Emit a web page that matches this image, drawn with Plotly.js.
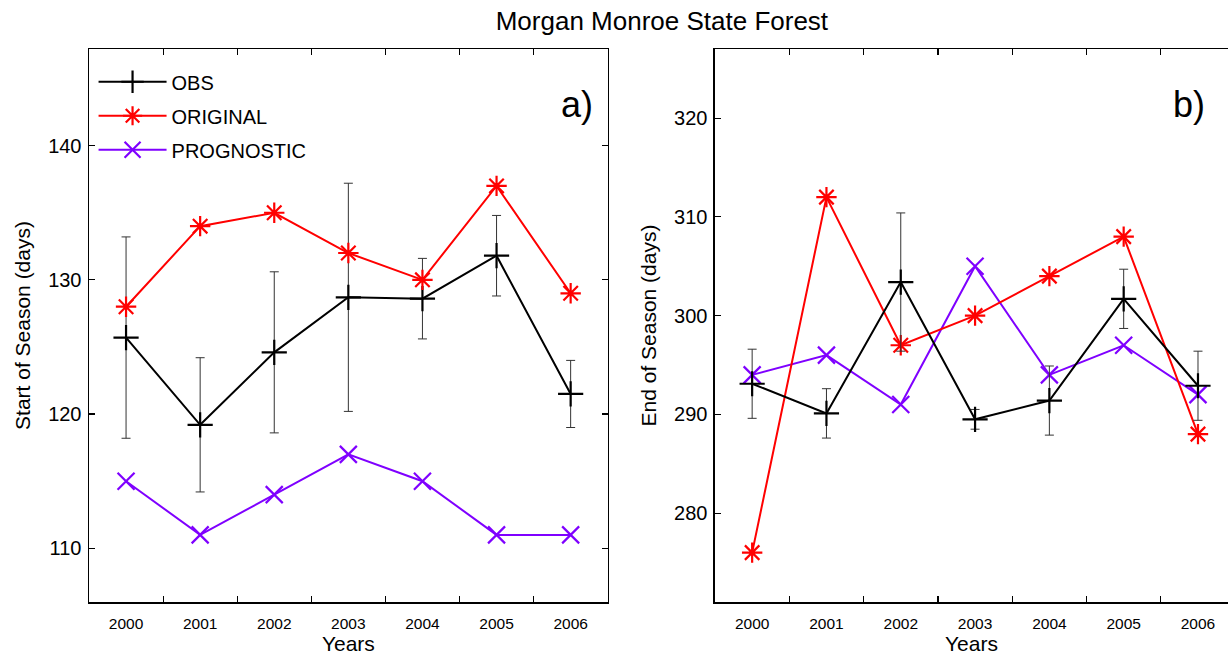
<!DOCTYPE html>
<html>
<head>
<meta charset="utf-8">
<script src="https://cdn.plot.ly/plotly-3.0.1.min.js"></script>
<style>html,body{margin:0;padding:0;background:#fff;}#chart{width:1228px;height:656px;}</style>
</head>
<body>
<div id="chart"></div>
<script>
const years = ['2000','2001','2002','2003','2004','2005','2006'];
// a) Start of Season (days)
const sosObs = [125.7, 119.2, 124.6, 128.7, 128.6, 131.8, 121.5];
const sosObsErr = [7.5, 5.0, 6.0, 8.5, 3.0, 3.0, 2.5];
const sosOriginal = [128, 134, 135, 132, 130, 137, 129];
const sosPrognostic = [115, 111, 114, 117, 115, 111, 111];
// b) End of Season (days)
const eosObs = [293.1, 290.1, 303.4, 289.5, 291.4, 301.7, 292.9];
const eosObsErr = [3.5, 2.5, 7.0, 1.0, 3.5, 3.0, 3.5];
const eosOriginal = [276, 312, 297, 300, 304, 308, 288];
const eosPrognostic = [294, 296, 291, 305, 294, 297, 292];

const FONT = 'Liberation Sans, Arial, Helvetica, sans-serif';
const cBlack = '#000000', cRed = '#ff0000', cPurple = '#7f00ff';

function obsTrace(y, err, xa, ya, show) {
  return {x: years, y: y, xaxis: xa, yaxis: ya, type: 'scatter', mode: 'lines+markers',
    name: 'OBS', legendgroup: 'obs', showlegend: show,
    line: {color: cBlack, width: 2},
    marker: {symbol: 'cross-thin', size: 18, line: {color: cBlack, width: 2.2}},
    error_y: {type: 'data', array: err, visible: true, color: '#333333', thickness: 1, width: 4.5}};
}
function origTrace(y, xa, ya, show) {
  return {x: years, y: y, xaxis: xa, yaxis: ya, type: 'scatter', mode: 'lines+markers',
    name: 'ORIGINAL', legendgroup: 'orig', showlegend: show,
    line: {color: cRed, width: 2},
    marker: {symbol: 'asterisk-open', size: 17, line: {color: cRed, width: 2.2}}};
}
function progTrace(y, xa, ya, show) {
  return {x: years, y: y, xaxis: xa, yaxis: ya, type: 'scatter', mode: 'lines+markers',
    name: 'PROGNOSTIC', legendgroup: 'prog', showlegend: show,
    line: {color: cPurple, width: 2},
    marker: {symbol: 'x-thin-open', size: 17, line: {color: cPurple, width: 2.2}}};
}

const data = [
  obsTrace(sosObs, sosObsErr, 'x', 'y', true),
  origTrace(sosOriginal, 'x', 'y', true),
  progTrace(sosPrognostic, 'x', 'y', true),
  progTrace(eosPrognostic, 'x2', 'y2', false),
  origTrace(eosOriginal, 'x2', 'y2', false),
  obsTrace(eosObs, eosObsErr, 'x2', 'y2', false)
];

const xBase = {type: 'category', tickson: 'boundaries', ticks: 'inside', ticklen: 6, tickwidth: 1.2,
  tickcolor: '#000', showline: true, linecolor: '#000', linewidth: 1.5, showgrid: false, zeroline: false,
  ticklabelstandoff: 7,
  tickfont: {family: FONT, size: 15.5, color: '#000'}, fixedrange: true};
const yBase = {ticks: 'inside', ticklen: 6, tickwidth: 1.2, tickcolor: '#000', showline: true,
  linecolor: '#000', linewidth: 1.5, showgrid: false, zeroline: false, dtick: 10,
  ticklabelstandoff: 2,
  tickfont: {family: FONT, size: 20, color: '#000'}, fixedrange: true};

const layout = {
  width: 1228, height: 656,
  margin: {l: 89, r: 0, t: 49, b: 54},
  paper_bgcolor: '#fff', plot_bgcolor: '#fff',
  font: {family: FONT, color: '#000'},
  title: {text: 'Morgan Monroe State Forest', x: 0.539, xanchor: 'center', y: 0.968, yanchor: 'middle',
    xref: 'container', yref: 'container', font: {family: FONT, size: 26, color: '#000'}},
  xaxis: Object.assign({}, xBase, {domain: [0, 0.4554], range: [-0.5, 6.5], mirror: 'ticks', anchor: 'y',
    title: {text: 'Years', standoff: 4, font: {family: FONT, size: 21, color: '#000'}}}),
  yaxis: Object.assign({}, yBase, {domain: [0, 1], range: [106, 147.2], mirror: 'ticks', anchor: 'x',
    tickvals: [110, 120, 130, 140],
    title: {text: 'Start of Season (days)', standoff: 12, font: {family: FONT, size: 21, color: '#000'}}}),
  xaxis2: Object.assign({}, xBase, {domain: [0.5496, 1], range: [-0.5, 6.404], mirror: 'ticks', anchor: 'y2',
    title: {text: 'Years', standoff: 4, font: {family: FONT, size: 21, color: '#000'}}}),
  yaxis2: Object.assign({}, yBase, {domain: [0, 1], range: [271, 327], mirror: false, anchor: 'x2',
    tickvals: [280, 290, 300, 310, 320],
    title: {text: 'End of Season (days)', standoff: 12, font: {family: FONT, size: 21, color: '#000'}}}),
  showlegend: true,
  legend: {x: 0.004, y: 0.976, xanchor: 'left', yanchor: 'top', xref: 'paper', yref: 'paper',
    bgcolor: 'rgba(0,0,0,0)', borderwidth: 0, itemwidth: 68, traceorder: 'grouped', tracegroupgap: 5,
    font: {family: FONT, size: 20, color: '#000'}},
  annotations: [
    {text: 'a)', xref: 'x domain', yref: 'y domain', x: 0.94, y: 0.9, xanchor: 'center', yanchor: 'middle',
      showarrow: false, font: {family: FONT, size: 36, color: '#000'}},
    {text: 'b)', xref: 'x2 domain', yref: 'y2 domain', x: 0.924, y: 0.9, xanchor: 'center', yanchor: 'middle',
      showarrow: false, font: {family: FONT, size: 36, color: '#000'}}
  ]
};

Plotly.newPlot('chart', data, layout, {staticPlot: true, displayModeBar: false});
</script>
</body>
</html>
